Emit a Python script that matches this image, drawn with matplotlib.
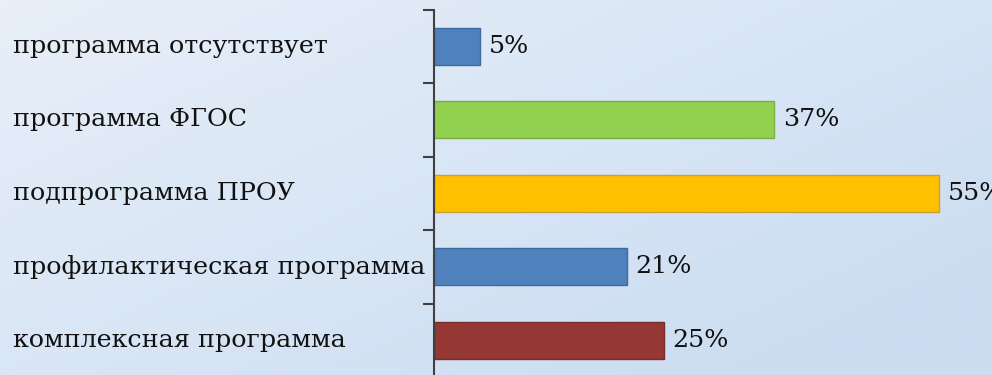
import numpy as np
import matplotlib
matplotlib.use("Agg")
import matplotlib.pyplot as plt
import matplotlib.transforms as mtransforms

categories = ["программа отсутствует", "программа ФГОС", "подпрограмма ПРОУ",
              "профилактическая программа", "комплексная программа"]
values = [5, 37, 55, 21, 25]
value_labels = ["5%", "37%", "55%", "21%", "25%"]
colors = ["#4f81bd", "#92d050", "#ffc000", "#4f81bd", "#953735"]
edges = ["#3f6a9e", "#7aae44", "#c8a040", "#3f6a9e", "#7a2c2a"]

W, H = 992, 375
fig = plt.figure(figsize=(W / 100, H / 100), dpi=100)

# gradient background
bg = fig.add_axes([0, 0, 1, 1])
yy, xx = np.mgrid[0:1:200j, 0:1:400j]
t = np.clip(0.55 * xx + 0.45 * yy + 0.15, 0, 1)
c0 = np.array([0.93, 0.95, 0.98])
c1 = np.array([0.80, 0.87, 0.95])
img = c0[None, None, :] * (1 - t[..., None]) + c1[None, None, :] * t[..., None]
bg.imshow(img, aspect="auto", extent=[0, 1, 0, 1], origin="upper")
bg.axis("off")

plt.rcParams["font.family"] = ["DejaVu Serif", "Liberation Serif"]
FS = 18.3

left = 434 / W
px_per_unit = 9.18
xmax = 60
width = xmax * px_per_unit / W
top_px, bottom_px = 9.5, 377.0
ax = fig.add_axes([left, 1 - bottom_px / H, width, (bottom_px - top_px) / H])
ax.patch.set_alpha(0)

n = len(categories)
ypos = np.arange(n)
ax.barh(ypos, values, height=0.5, color=colors, edgecolor=edges, linewidth=1.0, zorder=2)
ax.set_xlim(0, xmax)
ax.set_ylim(n - 0.5, -0.5)

for s in ["top", "right", "bottom"]:
    ax.spines[s].set_visible(False)
ax.spines["left"].set_color("#404040")
ax.spines["left"].set_linewidth(1.5)
ax.set_xticks([])
ax.set_yticks(np.arange(-0.5, n, 1.0))
ax.set_yticklabels([])
ax.tick_params(axis="y", length=8, width=1.5, color="#404040", direction="out")

trans = mtransforms.blended_transform_factory(fig.transFigure, ax.transData)
for i, lab in enumerate(categories):
    ax.text(13 / W, i, lab, transform=trans, ha="left", va="center",
            fontsize=FS, color="#111111", clip_on=False)

off = mtransforms.offset_copy(ax.transData, fig=fig, x=9, y=0, units="dots")
for i, (v, lab) in enumerate(zip(values, value_labels)):
    ax.text(v, i, lab, transform=off, ha="left", va="center",
            fontsize=FS, color="#111111", clip_on=False)

fig.savefig("out.png", dpi=100)
